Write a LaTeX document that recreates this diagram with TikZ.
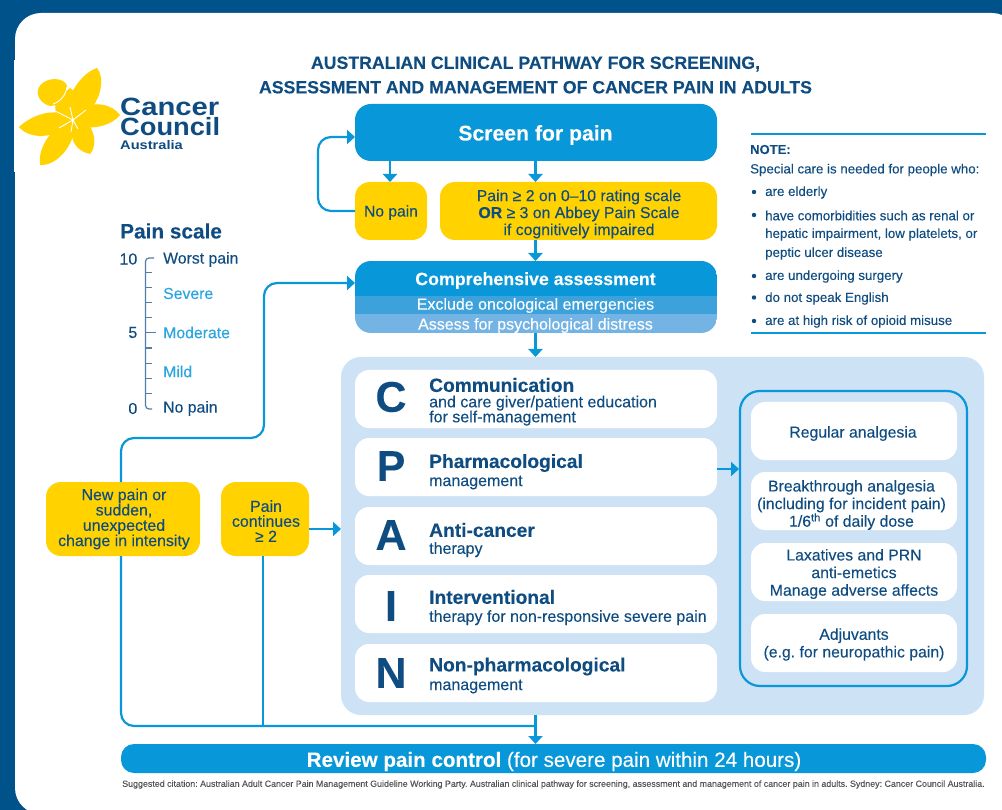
\documentclass[tikz,border=0pt]{standalone}
\usepackage{fontspec}
\setmainfont[FakeBold=0.12]{Liberation Sans}
\newfontfamily\logof[FakeStretch=1.17]{Liberation Sans}
\newfontfamily\logofb[FakeStretch=1.09]{Liberation Sans}
\usetikzlibrary{arrows.meta,calc}
\definecolor{navy}{HTML}{00528A}
\definecolor{ink}{HTML}{0F4C81}
\definecolor{cyanb}{HTML}{0897D8}
\definecolor{cyant}{HTML}{2BA6E0}
\definecolor{band}{HTML}{3DA2DC}
\definecolor{bandb}{HTML}{74B4E5}
\definecolor{pale}{HTML}{CDE2F5}
\definecolor{gold}{HTML}{FFD200}
\definecolor{grayt}{HTML}{555555}
\definecolor{ruler}{HTML}{4F7FA8}
\tikzset{
  x=1pt,y=-1pt,
  box/.style 2 args={inner sep=0pt,outer sep=0pt,rounded corners=#1,fill=#2},
  goldbox/.style={rounded corners=15pt,fill=gold,inner sep=0pt,outer sep=0pt},
  card/.style={rounded corners=14pt,fill=white,inner sep=0pt,outer sep=0pt},
  sidetxt/.style={text=ink,align=center,font=\fontsize{15.8}{17.6}\selectfont},
  conn/.style={draw=cyanb,line width=2.2pt,rounded corners=13pt},
  arr/.style={conn,-{Triangle[length=8pt,width=14pt]}},
  letter/.style={text=ink,font=\fontsize{43}{43}\selectfont\bfseries},
  head/.style={inner sep=0pt,text=ink,anchor=west,font=\fontsize{19.2}{19.2}\selectfont\bfseries},
  sub/.style={inner sep=0pt,text=ink,anchor=north west,align=left,font=\fontsize{16}{15}\selectfont},
  scale txt/.style={inner sep=0pt,anchor=west,font=\fontsize{15.8}{15.8}\selectfont},
  num/.style={inner sep=0pt,text=ink,anchor=east,font=\fontsize{16}{16}\selectfont},
  note/.style={inner sep=0pt,text=ink,anchor=west,font=\fontsize{13.3}{13.3}\selectfont},
  petal/.style={fill=gold,draw=none},
}
\newcommand{\boxat}[7][]{\node[#2,minimum width=#5pt,minimum height=#6pt,anchor=north west,#1] (#7) at (#3,#4) {};}
\begin{document}
\frenchspacing
\begin{tikzpicture}
\useasboundingbox (0,0) rectangle (1002,810);
\fill[navy] (0,0) rectangle (1002,810);
\fill[white,rounded corners=26pt] (15,13) rectangle (1018,814);
\fill[white] (14,60) rectangle (30,172);
% logo
\fill[petal] (68,105) .. controls (70,90) and (84,72) .. (97,68) .. controls (105,78) and (101,98) .. (90,110) -- cycle;
\fill[petal] (50,106) .. controls (36,102) and (34,88) .. (44,82) .. controls (54,76) and (68,80) .. (67,88) .. controls (66,96) and (60,106) .. (50,106) -- cycle;
\fill[petal] (84,108) .. controls (94,101) and (112,104) .. (120,115) .. controls (112,125) and (96,129) .. (82,127) -- cycle;
\fill[petal] (60,113) .. controls (46,110) and (28,118) .. (19,127) .. controls (30,140) and (54,138) .. (68,126) -- cycle;
\fill[petal] (63,124) .. controls (48,132) and (38,150) .. (40,165) .. controls (56,166) and (72,148) .. (75,128) -- cycle;
\fill[petal] (72,128) .. controls (70,140) and (76,151) .. (90,154) .. controls (97,146) and (96,130) .. (84,120) -- cycle;
\fill[petal] (55,101) -- (70,88) -- (92,106) -- (90,124) -- (68,132) -- (56,120) -- cycle;
\draw[white,line width=.9pt] (55,111) -- (73,120) -- (59,128) (73,120) -- (86,110) (73,120) -- (71,132) (73,120) -- (78,129) (73,120) -- (70,107);
\draw[white,line width=.9pt] (67,87) .. controls (66,95) and (60,102) .. (53,104);
\node[text=ink,inner sep=0pt,anchor=west,font=\logof\fontsize{25}{25}\selectfont\bfseries] (logoA) at (120,106.500) {Cancer};
\node[text=ink,inner sep=0pt,anchor=west,font=\logofb\fontsize{25}{25}\selectfont\bfseries] (logoB) at (120,126.500) {Council};
\node[text=ink,inner sep=0pt,anchor=west,font=\logof\fontsize{12.5}{12.5}\selectfont\bfseries] (logoC) at (120,145) {Australia};
% title
\node[text=ink,align=center,font=\fontsize{17.7}{24.5}\selectfont\bfseries] (title) at (535.5,75) {AUSTRALIAN CLINICAL PATHWAY FOR SCREENING,\\ASSESSMENT AND MANAGEMENT OF CANCER PAIN IN ADULTS};
% pale panel
\boxat[rounded corners=20pt]{box={20pt}{pale}}{341}{357}{643}{358}{panel}
% top flow
\boxat[rounded corners=16pt]{box={16pt}{cyanb}}{355}{104}{362}{57}{screen}
\node[text=white,font=\fontsize{21.2}{21.2}\selectfont\bfseries] (screent) at (535.5,135) {Screen for pain};
\boxat{goldbox}{355}{182}{72}{58}{nopain}
\node[text=ink,font=\fontsize{15.6}{15.6}\selectfont] (nopaint) at (391,212.500) {No pain};
\boxat{goldbox}{440}{182}{277}{58}{painbox}
\node[text=ink,align=center,font=\fontsize{15.8}{17}\selectfont] (painboxt) at (579,214) {Pain ≥ 2 on 0–10 rating scale\\\textbf{OR} ≥ 3 on Abbey Pain Scale\\if cognitively impaired};
% assessment
\begin{scope}
\clip[rounded corners=16pt] (355,261) rectangle (717,333);
\fill[cyanb] (355,261) rectangle (717,297);
\fill[band] (355,296) rectangle (717,315);
\fill[bandb] (355,314) rectangle (717,333);
\end{scope}
\coordinate (assessW) at (355,283);
\coordinate (assessN) at (535.5,261);
\coordinate (assessS) at (535.5,333);
\node[text=white,font=\fontsize{17.8}{17.8}\selectfont\bfseries] (assess1) at (535.5,280.500) {Comprehensive assessment};
\node[text=white,font=\fontsize{16}{16}\selectfont] (assess2) at (535.5,305.500) {Exclude oncological emergencies};
\node[text=white,font=\fontsize{16}{16}\selectfont] (assess3) at (535.5,325.500) {Assess for psychological distress};
% CPAIN cards
\boxat{card}{355}{370}{362}{58}{cardC}
\boxat{card}{355}{438}{362}{58}{cardP}
\boxat{card}{355}{507}{362}{58}{cardA}
\boxat{card}{355}{575}{362}{58}{cardI}
\boxat{card}{355}{644}{362}{58}{cardN}
\node[letter] (lC) at (391,397) {C};
\node[letter] (lP) at (391,466) {P};
\node[letter] (lA) at (391,535) {A};
\node[letter] (lI) at (391,606) {I};
\node[letter] (lN) at (391,673) {N};
\node[head] (hC) at (429,385) {Communication};
\node[sub] (sC) at (429,395.500) {and care giver/patient education\\for self-management};
\node[head] (hP) at (429,463) {Pharmacological};
\node[sub] (sP) at (429,475.500) {management};
\node[head] (hA) at (429,530) {Anti-cancer};
\node[sub] (sA) at (429,542) {therapy};
\node[head] (hI) at (429,597) {Interventional};
\node[sub] (sI) at (429,610) {therapy for non-responsive severe pain};
\node[head] (hN) at (429,666.500) {Non-pharmacological};
\node[sub] (sN) at (429,679.500) {management};
% side frame
\draw[cyanb,line width=2.2pt,rounded corners=20pt] (740,391) rectangle (967,686);
\coordinate (frameW) at (739,469);
\boxat{card}{751}{402}{206}{58}{sideA}
\boxat{card}{751}{472}{206}{58}{sideB}
\boxat{card}{751}{543}{206}{58}{sideC}
\boxat{card}{751}{614}{206}{58}{sideD}
\node[sidetxt] (tA) at (853,433.500) {Regular analgesia};
\node[sidetxt] (tB) at (851.500,505) {Breakthrough analgesia\\(including for incident pain)\\1/6\textsuperscript{th} of daily dose};
\node[sidetxt] (tC) at (854,574) {Laxatives and PRN\\anti-emetics\\Manage adverse affects};
\node[sidetxt] (tD) at (854,644.500) {Adjuvants\\(e.g. for neuropathic pain)};
% left gold
\boxat{goldbox}{46}{482}{154}{74}{newpain}
\node[text=ink,align=center,font=\fontsize{15.9}{15.3}\selectfont] (newt) at (124,519) {New pain or\\sudden,\\unexpected\\change in intensity};
\boxat{goldbox}{221}{482}{88}{74}{continues}
\node[text=ink,align=center,font=\fontsize{15.9}{15}\selectfont] (contt) at (266,521) {Pain\\continues\\≥ 2};
% review
\boxat[rounded corners=13pt]{box={13pt}{cyanb}}{121}{744}{865}{29}{review}
\node[text=white,font=\fontsize{20.6}{20.6}\selectfont] (reviewt) at (554,761.500) {\textbf{Review pain control} (for severe pain within 24 hours)};
\node[text=grayt,font=\fontsize{8.87}{8.87}\selectfont] (cite) at (553.500,784.500) {Suggested citation: Australian Adult Cancer Pain Management Guideline Working Party. Australian clinical pathway for screening, assessment and management of cancer pain in adults. Sydney: Cancer Council Australia.};
% connectors
\draw[arr] (nopain.west) -- (318,211) -- (318,137) -- (screen.west |- 0,137);
\draw[arr,rounded corners=0pt] (screen.south -| 390,0) -- (nopain.north -| 390,0);
\draw[arr,rounded corners=0pt] (screen.south -| 535.5,0) -- (painbox.north -| 535.5,0);
\draw[arr,rounded corners=0pt] (painbox.south -| 535.5,0) -- (assessN);
\draw[arr,rounded corners=0pt] (assessS) -- (panel.north -| 535.5,0);
\draw[arr] (newpain.north -| 121,0) -- (121,438) -- (264,438) -- (264,283) -- (assessW);
\draw[conn] (newpain.south -| 121,0) -- (121,726) -- (535.5,726);
\draw[conn,rounded corners=0pt] (continues.south -| 263,0) -- (263,726);
\draw[arr,rounded corners=0pt] (continues.east |- 0,529) -- (panel.west |- 0,529);
\draw[arr,rounded corners=0pt] (panel.south -| 535.5,0) -- (review.north -| 535.5,0);
\draw[arr,rounded corners=0pt] (717,469) -- (frameW);
% pain scale
\node[inner sep=0pt,text=ink,anchor=west,font=\fontsize{20.8}{20.8}\selectfont\bfseries] (ps) at (120,231) {Pain scale};
\node[num] (n10) at (137.500,259) {10};
\node[num] (n5) at (137.500,332.500) {5};
\node[num] (n0) at (137.500,408.500) {0};
\draw[ruler,line width=1.2pt,rounded corners=3.5pt] (154,258) -- (145.500,258) -- (145.500,409) -- (152,409);
\foreach \yy in {272.300,287.300,302.300,317.700,348,363.300,378.300,393.300} \draw[ruler,line width=1.1pt] (145.5,\yy) -- (152,\yy);
\draw[ruler,line width=1.4pt] (145.5,332.700) -- (156,332.700);
\node[scale txt,text=ink] (s1) at (163,259.500) {Worst pain};
\node[scale txt,text=cyant] (s2) at (163,293.500) {Severe};
\node[scale txt,text=cyant] (s3) at (163,332.500) {Moderate};
\node[scale txt,text=cyant] (s4) at (163,371.500) {Mild};
\node[scale txt,text=ink] (s5) at (163,408.500) {No pain};
% note
\draw[cyanb,line width=2pt] (751,134.500) -- (986,134.500);
\draw[cyanb,line width=2pt] (751,333.500) -- (986,333.500);
\node[note,font=\fontsize{13}{13}\selectfont\bfseries] (nt) at (750,149.500) {NOTE:};
\node[note] (n1) at (750,170) {Special care is needed for people who:};
\foreach \yy in {192,215,276,297.500,321} \fill[ink] (754,\yy) circle (2.2pt);
\node[note] (n2) at (765,192.500) {are elderly};
\node[note] (n3) at (765,215.500) {have comorbidities such as renal or};
\node[note] (n3b) at (765,234.500) {hepatic impairment, low platelets, or};
\node[note] (n3c) at (765,253.500) {peptic ulcer disease};
\node[note] (n4) at (765,276.500) {are undergoing surgery};
\node[note] (n5t) at (765,298.500) {do not speak English};
\node[note] (n6) at (765,321.500) {are at high risk of opioid misuse};
\end{tikzpicture}
\end{document}
